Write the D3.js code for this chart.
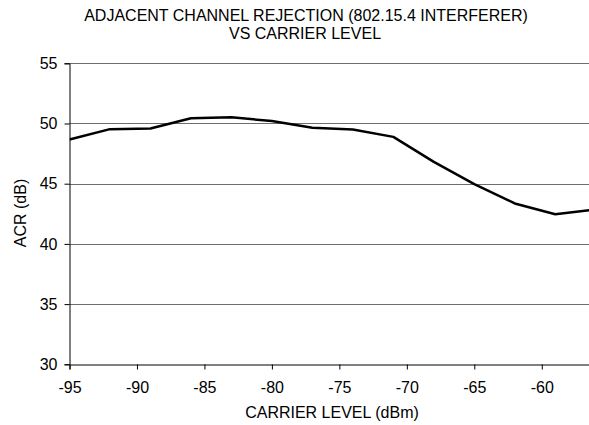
<!DOCTYPE html>
<html><head><meta charset="utf-8">
<script src="https://cdn.jsdelivr.net/npm/d3@7"></script>
<style>body{margin:0;background:#fff}svg{display:block}text{font-family:"Liberation Sans",Arial,sans-serif;fill:#000}</style>
</head><body>
<svg id="c" width="589" height="425"></svg>
<script>
const carrierLevel = [-95, -92, -89, -86, -83, -80, -77, -74, -71, -68, -65, -62, -59, -56];
const acr = [48.67, 49.53, 49.58, 50.44, 50.52, 50.2, 49.64, 49.5, 48.89, 46.81, 44.96, 43.36, 42.46, 42.87];
const xTicks = [-95, -90, -85, -80, -75, -70, -65, -60];
const yTicks = [30, 35, 40, 45, 50, 55];
const titleLines = ["ADJACENT CHANNEL REJECTION (802.15.4 INTERFERER)", "VS CARRIER LEVEL"];
const xLabel = "CARRIER LEVEL (dBm)";
const yLabel = "ACR (dB)";

const svg = d3.select("#c");
const L = 69.5, R = 589, T = 63.3, B = 364.3;
const x = d3.scaleLinear().domain([-95, -56.5]).range([L, R]);
const y = d3.scaleLinear().domain([30, 55]).range([B, T]);
const FONT = "Liberation Sans, Arial, sans-serif";

svg.append("defs").append("clipPath").attr("id","clip")
  .append("rect").attr("x", L).attr("y", 0).attr("width", R - L).attr("height", 425);

// gridlines
svg.append("g").selectAll("line").data(yTicks.filter(d => d > 30)).join("line")
  .attr("x1", L).attr("x2", R).attr("y1", d => Math.round(y(d)) + 0.5).attr("y2", d => Math.round(y(d)) + 0.5)
  .attr("stroke", "#6e6e6e").attr("stroke-width", 1);

// y axis
const ya = svg.append("g").attr("transform", `translate(${L},0)`)
  .call(d3.axisLeft(y).tickValues(yTicks).tickSize(5).tickPadding(7).tickFormat(d => String(d)));
ya.select(".domain").attr("stroke", "#000");
ya.selectAll(".tick line").attr("stroke", "#000");
ya.selectAll("text").attr("font-size", 16).attr("font-family", FONT);

// x axis
const xa = svg.append("g").attr("transform", `translate(0,${Math.round(B)+0.5})`)
  .call(d3.axisBottom(x).tickValues(xTicks).tickSize(5).tickPadding(12).tickFormat(d => String(d)));
xa.select(".domain").attr("stroke", "#000");
xa.selectAll(".tick line").attr("stroke", "#000");
xa.selectAll("text").attr("font-size", 16).attr("font-family", FONT);

// data line
const pts = carrierLevel.map((c, i) => [c, acr[i]]);
svg.append("path").datum(pts).attr("clip-path", "url(#clip)")
  .attr("fill", "none").attr("stroke", "#000").attr("stroke-width", 2.5).attr("stroke-linejoin", "round")
  .attr("d", d3.line().x(d => x(d[0])).y(d => y(d[1])));

// titles
svg.append("text").attr("x", 306).attr("y", 21).attr("text-anchor", "middle").attr("font-size", 16).text(titleLines[0]);
svg.append("text").attr("x", 305).attr("y", 38.5).attr("text-anchor", "middle").attr("font-size", 16).text(titleLines[1]);
svg.append("text").attr("x", 332).attr("y", 418).attr("text-anchor", "middle").attr("font-size", 16).text(xLabel);
svg.append("text").attr("transform", "translate(26,213) rotate(-90)").attr("text-anchor", "middle").attr("font-size", 16).text(yLabel);
</script>
</body></html>
